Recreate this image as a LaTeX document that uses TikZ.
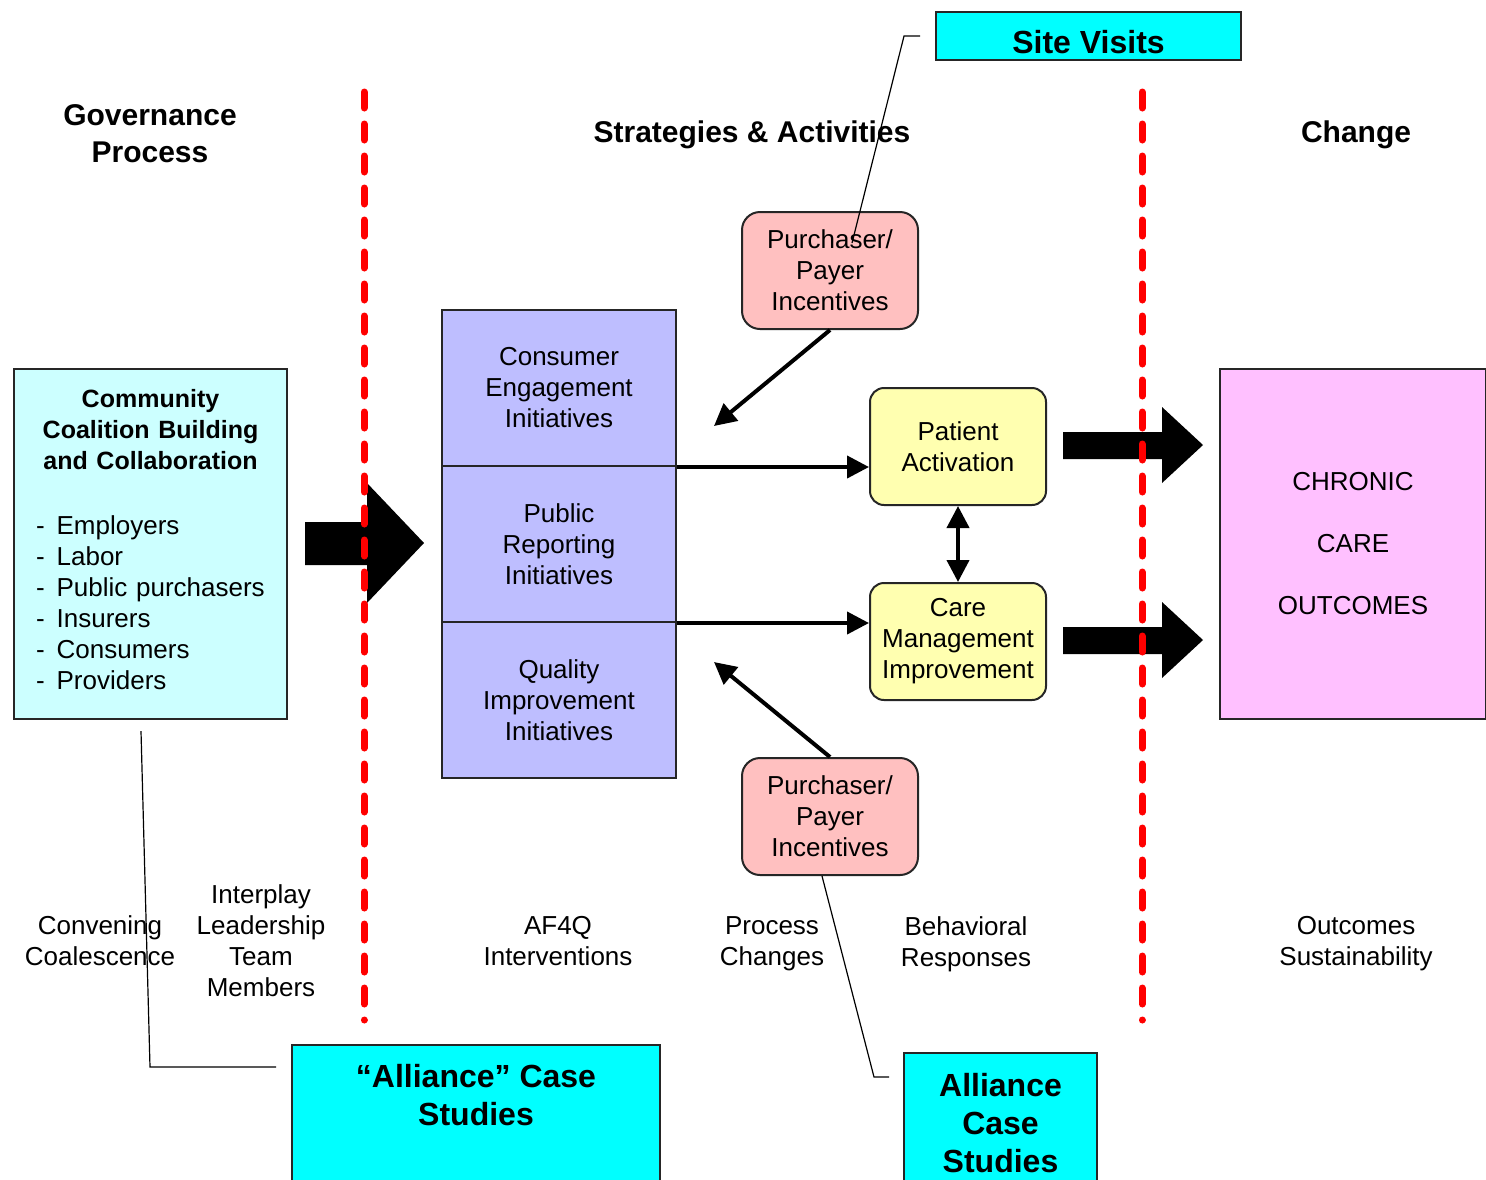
\documentclass[tikz,border=0pt]{standalone}
\usepackage{fontspec}
\setmainfont{Liberation Sans}
\usetikzlibrary{arrows.meta, positioning}
\definecolor{coalcyan}{RGB}{204,255,255}
\definecolor{initblue}{RGB}{190,190,255}
\definecolor{incpink}{RGB}{255,192,192}
\definecolor{respyellow}{RGB}{255,255,176}
\definecolor{outpink}{RGB}{255,192,255}
\definecolor{studycyan}{RGB}{0,255,255}

\begin{document}
\begin{tikzpicture}[x=0.5pt, y=-0.5pt,
  every node/.style={font=\fontsize{13}{15.5}\selectfont, align=center},
  heading/.style={font=\bfseries\fontsize{15}{18.5}\selectfont},
  commbox/.style={draw=black!85, line width=1pt, fill=coalcyan, text width=136.5pt, minimum height=175pt, inner sep=0pt, align=left},
  initbox/.style={draw=black!85, line width=1pt, fill=initblue, minimum width=117pt, minimum height=78pt, inner sep=0pt},
  incbox/.style={draw=black!85, line width=1pt, fill=incpink, rounded corners=9pt, minimum width=88pt, minimum height=58.5pt, inner sep=0pt},
  respbox/.style={incbox, fill=respyellow, rounded corners=7pt},
  outbox/.style={draw=black!85, line width=1pt, fill=outpink, minimum width=133pt, minimum height=175pt, inner sep=0pt},
  studybox/.style={draw=black!85, line width=1pt, fill=studycyan, font=\bfseries\fontsize{16}{19}\selectfont},
  flow/.style={line width=2pt, -{Triangle[length=11pt,width=11pt]}},
  twoway/.style={line width=2pt, {Triangle[length=11pt,width=11pt]}-{Triangle[length=11pt,width=11pt]}},
  callout/.style={line width=0.6pt},
  divider/.style={red, line width=3.5pt, dash pattern=on 8pt off 8pt, line cap=round},
  ]
\fill[white] (0,0) rectangle (1486,1179);
\useasboundingbox (0,0) rectangle (1486,1179);

% column headings
\node[heading] (gov) at (150,133.5) {Governance\\Process};
\node[heading] (strat) at (752,135) {Strategies \& Activities};
\node[heading] (chg) at (1356,135) {Change};

% governance
\node[commbox] (coal) at (150.5,544) {{\centering\bfseries\fontsize{12.5}{15.5}\selectfont Community\\Coalition Building\\and Collaboration\par}
\vspace{20.5pt}
\begin{tabular}{@{\hspace{11pt}}l@{\hspace{6pt}}l}
- & Employers\\
- & Labor\\
- & Public purchasers\\
- & Insurers\\
- & Consumers\\
- & Providers
\end{tabular}};

% initiatives
\node[initbox] (cons) at (559,388) {Consumer\\Engagement\\Initiatives};
\node[initbox, below=-1pt of cons] (pub) {Public\\Reporting\\Initiatives};
\node[initbox, below=-1pt of pub] (qual) {Quality\\Improvement\\Initiatives};

\node[incbox] (incTop) at (830,270.5) {Purchaser/\\Payer\\Incentives};
\node[incbox] (incBot) at (830,816.5) {Purchaser/\\Payer\\Incentives};

\node[respbox] (pat) at (958,446.5) {Patient\\Activation};
\node[respbox, below=38pt of pat] (care) {Care\\Management\\Improvement};

% change
\node[outbox] (out) at (1353,544) {CHRONIC\\[15.5pt]CARE\\[15.5pt]OUTCOMES};

% bottom labels
\node (conv) at (100,941) {Convening\\Coalescence};
\node (inter) at (261,941) {Interplay\\Leadership\\Team\\Members};
\node (af4q) at (558,941) {AF4Q\\Interventions};
\node (proc) at (772,944) {Process\\Changes};
\node (behav) at (966,944) {Behavioral\\Responses};
\node (outc) at (1356,944) {Outcomes\\Sustainability};

% study boxes
\node[studybox, minimum width=152.5pt, minimum height=24pt, text height=17pt, text depth=0pt, inner sep=0pt] (site) at (1088.5,36) {Site Visits};
\node[studybox, anchor=north, minimum width=184pt, inner xsep=0pt, inner ysep=9.5pt, text depth=50pt] (allL) at (476,1044) {“Alliance” Case\\Studies};
\node[studybox, anchor=north, minimum width=96.5pt, inner xsep=0pt, inner ysep=10pt, text depth=50pt] (allR) at (1000.5,1052) {Alliance\\Case\\Studies};

% connectors
\coordinate (consIn) at (714,426);
\coordinate (qualIn) at (714,662);
\draw[flow] (incTop.south) -- (consIn);
\draw[flow] (incBot.north) -- (qualIn);
\draw[flow] (cons.south east) -- (cons.south east -| pat.west);
\draw[flow] (pub.south east) -- (pub.south east -| care.west);
\draw[twoway] (pat.south) -- (care.north);

% block arrows
\fill (305,522) -- (367,522) -- (367,483) -- (424,543) -- (367,603) -- (367,565) -- (305,565) -- cycle;
\foreach \y in {445,640}
  \fill (1063,\y-13) -- (1162,\y-13) -- (1162,\y-38) -- (1203,\y) -- (1162,\y+38) -- (1162,\y+14) -- (1063,\y+14) -- cycle;

% dividers
\foreach \x in {364,1142}
  \draw[divider] (\x,92) -- (\x,1020);

% callouts
\coordinate (svTip) at (852,243);
\draw[callout] ([xshift=-7.5pt]site.west) -- ([xshift=-15.5pt]site.west) -- (svTip);
\coordinate (coalTip) at (141,731);
\coordinate (allLknee) at (150,1067);
\coordinate (allLhook) at (276,1067);
\draw[callout] (coalTip) -- (allLknee) -- (allLhook);
\coordinate (allRknee) at (874,1077);
\coordinate (allRhook) at (889,1077);
\draw[callout] ([xshift=-4pt]incBot.south) -- (allRknee) -- (allRhook);
\end{tikzpicture}
\end{document}
